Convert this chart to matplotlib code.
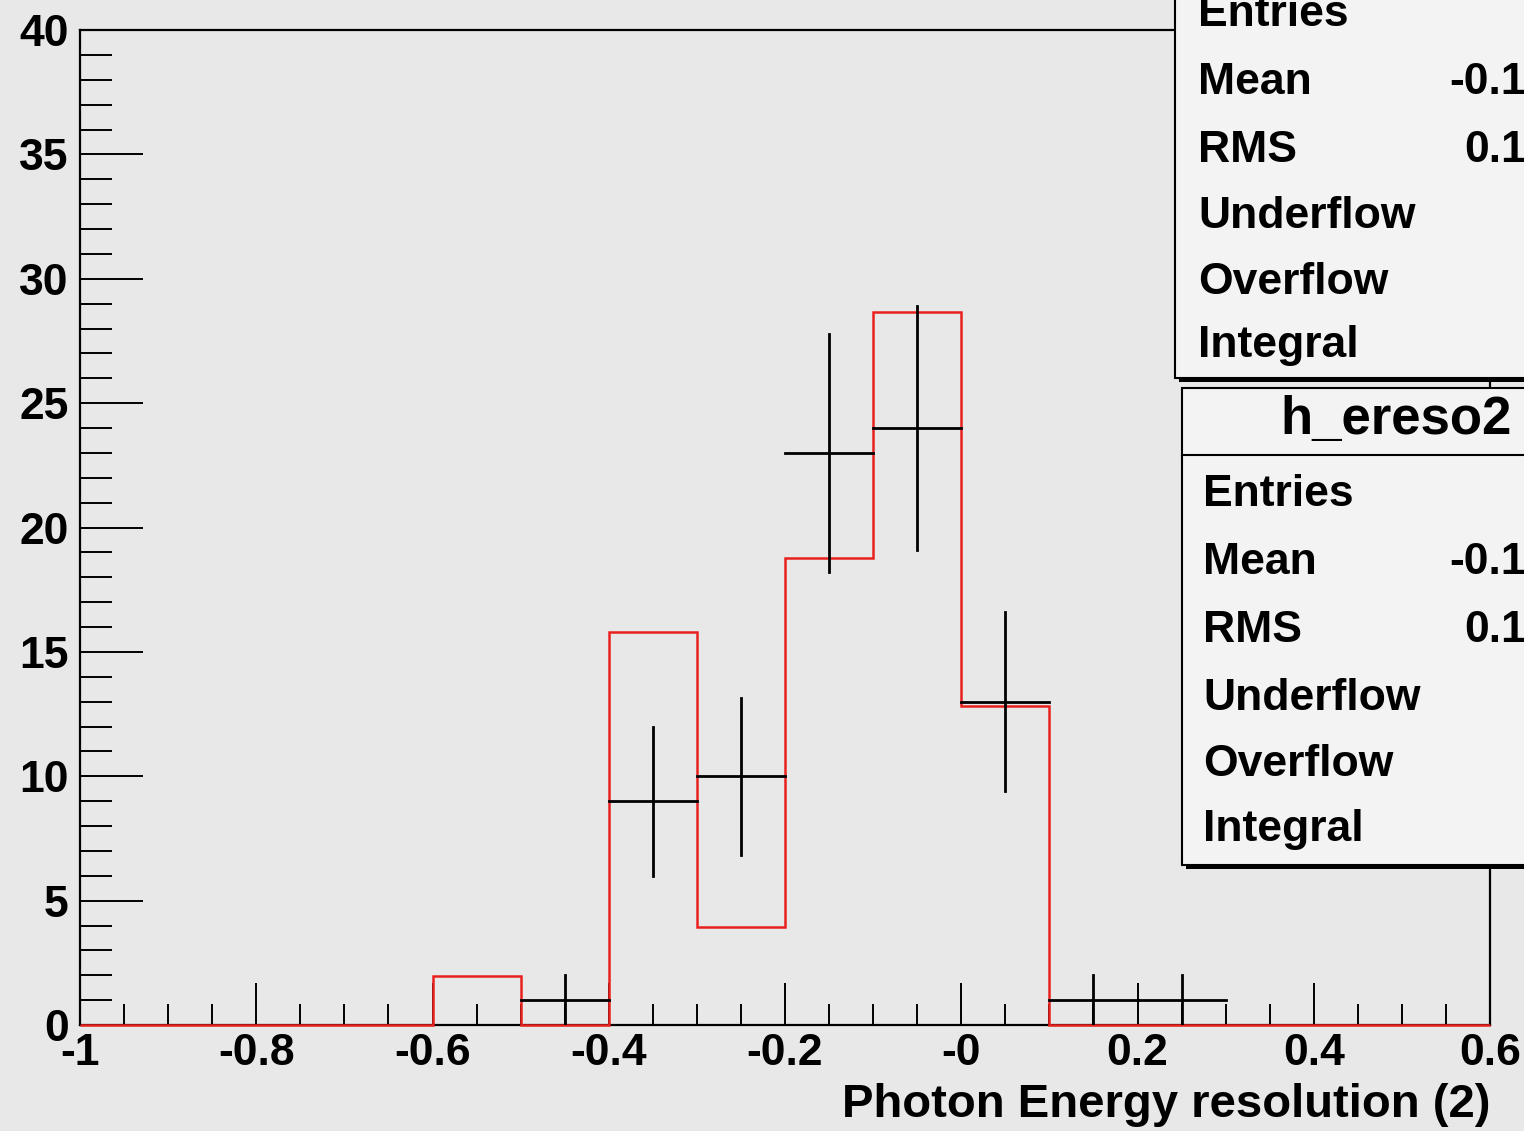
import matplotlib
matplotlib.use("Agg")
import matplotlib.pyplot as plt
import numpy as np
from matplotlib.patches import Rectangle
from matplotlib.ticker import MultipleLocator

# histogram data (bin width 0.1)
edges = np.round(np.arange(-1.0, 0.61, 0.1), 2)
red_vals = [0, 0, 0, 0, 1.98, 0, 15.81, 3.95, 18.77, 28.65, 12.84, 0, 0, 0, 0, 0]
black_vals = [0, 0, 0, 0, 0, 1, 9, 10, 23, 24, 13, 1, 1, 0, 0, 0]
xtick_vals = [-1, -0.8, -0.6, -0.4, -0.2, 0, 0.2, 0.4, 0.6]
xtick_labels = ['-1', '-0.8', '-0.6', '-0.4', '-0.2', '-0', '0.2', '0.4', '0.6']
stat_names = ['Entries', 'Mean', 'RMS', 'Underflow', 'Overflow', 'Integral']
stat_vals = {'Mean': '-0.1', 'RMS': '0.1'}

W, H = 1524, 1131
bg = '#e8e8e8'
fs = 32
plt.rcParams['font.family'] = ['Liberation Sans', 'DejaVu Sans']
plt.rcParams['font.weight'] = 'bold'

fig = plt.figure(figsize=(W / 100, H / 100), dpi=100, facecolor=bg)
ax = fig.add_axes([80 / W, 1 - 1025 / H, (1490 - 80) / W, (1025 - 30) / H])
ax.set_facecolor(bg)

def px(x, y):
    return x / W, 1 - y / H

# red histogram
ax.stairs(red_vals, edges, color='#e8211e', lw=1.8, zorder=3, clip_on=False)

# black points with errors
centers = (edges[:-1] + edges[1:]) / 2
for c, v in zip(centers, black_vals):
    if v <= 0:
        continue
    e = np.sqrt(v)
    ax.plot([c - 0.05, c + 0.05], [v, v], color='black', lw=2, zorder=4)
    ax.plot([c, c], [v - e, v + e], color='black', lw=2, zorder=4)

ax.set_xlim(-1, 0.6)
ax.set_ylim(0, 40)
ax.set_xticks(xtick_vals)
ax.set_xticklabels(xtick_labels)
ax.xaxis.set_minor_locator(MultipleLocator(0.05))
ax.yaxis.set_major_locator(MultipleLocator(5))
ax.yaxis.set_minor_locator(MultipleLocator(1))
ax.tick_params(which='both', direction='in', top=False, right=False,
               labelsize=fs, width=1.4, color='black')
ax.tick_params(axis='y', which='major', length=45, pad=8)
ax.tick_params(axis='y', which='minor', length=23)
ax.tick_params(axis='x', which='major', length=30, pad=6)
ax.tick_params(axis='x', which='minor', length=15)
for lab in ax.get_xticklabels() + ax.get_yticklabels():
    lab.set_fontweight('bold')
for s in ax.spines.values():
    s.set_linewidth(1.6)

fig.text(*px(1490, 1105), 'Photon Energy resolution (2)', ha='right', va='center',
         fontsize=34, fontweight='bold')

# stats box 1 (cut at top/right)
x0, y0, x1, y1 = 1175, -20, 1560, 378
fig.add_artist(Rectangle(px(x0 + 4, y1 + 4), (x1 - x0) / W, (y1 - y0) / H,
                         transform=fig.transFigure, facecolor='black', edgecolor='none', zorder=5))
fig.add_artist(Rectangle(px(x0, y1), (x1 - x0) / W, (y1 - y0) / H,
                         transform=fig.transFigure, facecolor='#f3f3f3', edgecolor='black', lw=1.5, zorder=6))
for name, yy in zip(stat_names, [15, 82, 150, 217, 283, 345]):
    fig.text(*px(1198, yy), name, ha='left', va='center', fontsize=fs, fontweight='bold', zorder=7)
    if name in stat_vals:
        fig.text(*px(1526, yy), stat_vals[name], ha='right', va='center',
                 fontsize=fs, fontweight='bold', zorder=7)

# stats box 2
x0, y0, x1, y1 = 1182, 388, 1560, 865
fig.add_artist(Rectangle(px(x0 + 4, y1 + 4), (x1 - x0) / W, (y1 - y0) / H,
                         transform=fig.transFigure, facecolor='black', edgecolor='none', zorder=5))
fig.add_artist(Rectangle(px(x0, y1), (x1 - x0) / W, (y1 - y0) / H,
                         transform=fig.transFigure, facecolor='#f3f3f3', edgecolor='black', lw=1.5, zorder=6))
fig.add_artist(plt.Line2D([x0 / W, x1 / W], [1 - 455 / H, 1 - 455 / H], transform=fig.transFigure,
                          color='black', lw=1.5, zorder=7))
fig.text(*px(1280, 420), 'h_ereso2', ha='left', va='center', fontsize=38, fontweight='bold', zorder=7)
for name, yy in zip(stat_names, [495, 562, 630, 698, 765, 830]):
    fig.text(*px(1203, yy), name, ha='left', va='center', fontsize=fs, fontweight='bold', zorder=7)
    if name in stat_vals:
        fig.text(*px(1526, yy), stat_vals[name], ha='right', va='center',
                 fontsize=fs, fontweight='bold', zorder=7)

fig.savefig('out.png', dpi=100, facecolor=bg)
